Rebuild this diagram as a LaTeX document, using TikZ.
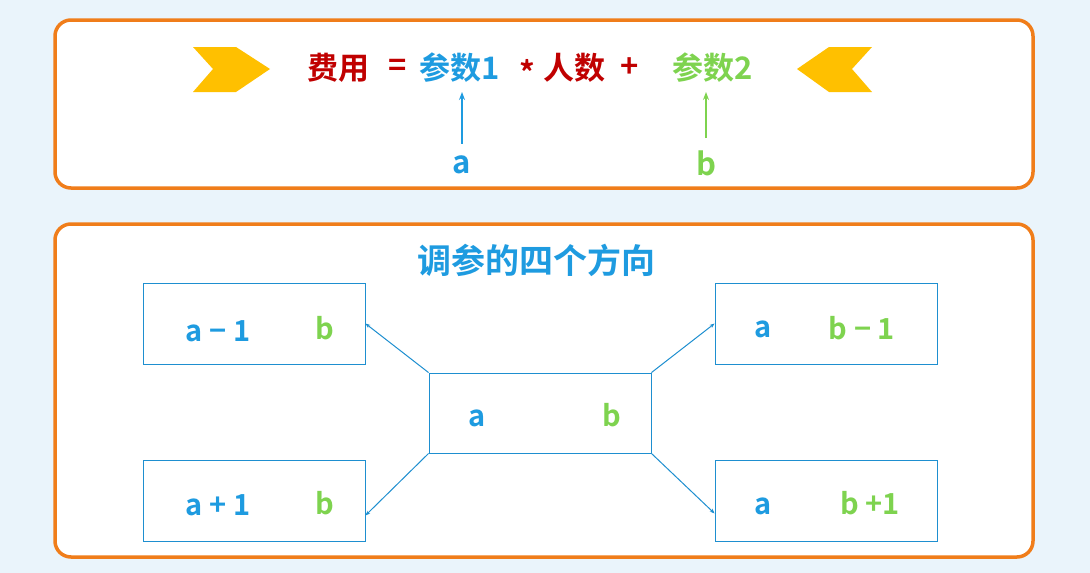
\documentclass[tikz,border=0pt]{standalone}
\usepackage{fontspec}
\usetikzlibrary{arrows.meta}
\newfontfamily\cjk{Noto Sans CJK SC Bold}
\definecolor{bgc}{HTML}{EAF4FB}
\definecolor{org}{HTML}{F07D1A}
\definecolor{rd}{HTML}{C00000}
\definecolor{bl}{HTML}{1E9BE0}
\definecolor{gr}{HTML}{7ED34F}
\definecolor{yl}{HTML}{FFC000}
\definecolor{bx}{HTML}{1E8FD0}
\begin{document}
\begin{tikzpicture}[x=1pt,y=-1pt,
 panel/.style={draw=org,line width=3.5pt,fill=white,rounded corners=16pt},
 txt/.style={font=\cjk\fontsize{31}{33}\selectfont,inner sep=0pt},
 ptxt/.style={font=\cjk\fontsize{29}{31}\selectfont,inner sep=0pt},
 sbox/.style={draw=bx,line width=0.8pt,fill=white,minimum width=222pt,minimum height=81pt,inner sep=0pt},
 conn/.style={draw=bx,line width=1pt,-{Stealth[length=5pt]}}]
\fill[bgc] (0,0) rectangle (1090,573);
\draw[panel] (55,20) rectangle (1033,188);
\draw[panel] (55,224) rectangle (1033,557);
% chevrons
\fill[yl] (193,47) -- (236,47) -- (270,69) -- (236,92) -- (193,92) -- (213,69) -- cycle;
\fill[yl] (872,47) -- (829,47) -- (797,69) -- (829,92) -- (872,92) -- (852,69) -- cycle;
% formula
\node[txt,text=rd] (f1) at (338,68) {费用};
\node[txt,text=rd] (f2) at (398,68) {=};
\node[txt,text=bl] (f3) at (460,68) {参数1};
\node[txt,text=rd] (f4) at (527,72) {*};
\node[txt,text=rd] (f5) at (574,68) {人数};
\node[txt,text=rd] (f6) at (630,68) {+};
\node[txt,text=gr] (f7) at (713,68) {参数2};
\node[txt,text=bl] (la) at (462,165) {a};
\node[txt,text=gr] (lb) at (706,163) {b};
\coordinate (ta) at (462,92);
\coordinate (tb) at (706,92);
\draw[bl,line width=1.5pt,-{Stealth[length=8pt]}] (la.north) ++(0,-12) -- (ta);
\draw[gr,line width=1.5pt,-{Stealth[length=8pt]}] (lb.north) ++(0,-12) -- (tb);
\node[txt,text=bl,font=\cjk\fontsize{34}{36}\selectfont] (title) at (536,260) {调参的四个方向};
% boxes
\node[sbox] (tl) at (254,323.5) {};
\node[sbox] (tr) at (826,323.5) {};
\node[sbox,minimum height=80pt] (c) at (540,413) {};
\node[sbox] (bl) at (254,500.5) {};
\node[sbox] (br) at (826,500.5) {};
\node[ptxt,text=bl] at (218,331) {a − 1};
\node[ptxt,text=gr] at (325,328) {b};
\node[ptxt,text=bl] at (477,418) {a};
\node[ptxt,text=gr] at (612,415) {b};
\node[ptxt,text=bl] at (763,329) {a};
\node[ptxt,text=gr] at (862,328) {b − 1};
\node[ptxt,text=bl] at (218,505) {a + 1};
\node[ptxt,text=gr] at (325,503) {b};
\node[ptxt,text=bl] at (763,506) {a};
\node[ptxt,text=gr] at (870,503) {b +1};
\draw[conn] (c.north west) -- (tl.east);
\draw[conn] (c.north east) -- (tr.west);
\draw[conn] (c.south west) -- ([yshift=-15pt]bl.east);
\draw[conn] (c.south east) -- ([yshift=-13pt]br.west);
\end{tikzpicture}
\end{document}
